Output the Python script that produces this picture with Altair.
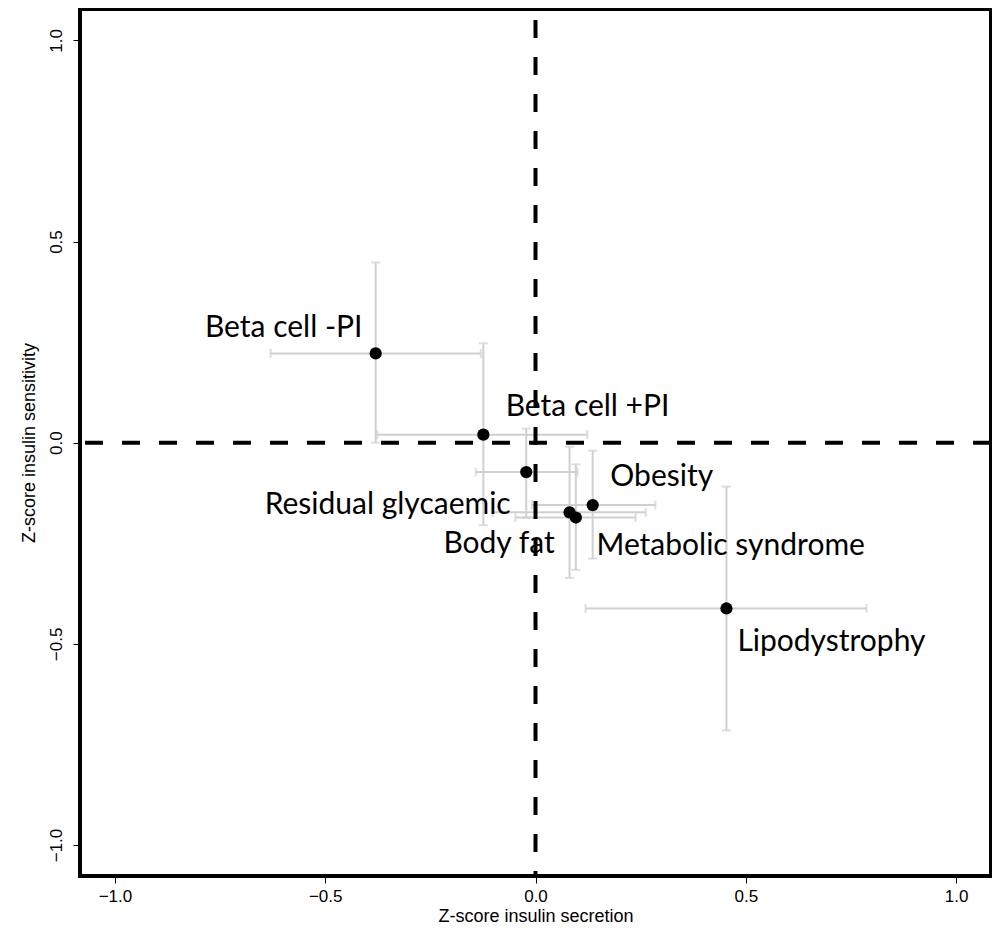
import altair as alt
import pandas as pd

groups = ["Beta cell -PI", "Beta cell +PI", "Residual glycaemic", "Body fat",
          "Metabolic syndrome", "Obesity", "Lipodystrophy"]
x_val = [-0.380, -0.124, -0.022, 0.081, 0.096, 0.136, 0.454]
x_lo = [-0.630, -0.376, -0.142, -0.102, -0.048, -0.009, 0.119]
x_hi = [-0.130, 0.123, 0.100, 0.262, 0.238, 0.285, 0.787]
y_val = [0.222, 0.020, -0.073, -0.173, -0.186, -0.155, -0.412]
y_lo = [0.000, -0.205, -0.186, -0.336, -0.316, -0.288, -0.715]
y_hi = [0.448, 0.247, 0.035, -0.010, -0.054, -0.020, -0.109]

label_x = [-0.786, -0.071, -0.644, -0.219, 0.145, 0.178, 0.480]
label_y = [0.286, 0.089, -0.154, -0.253, -0.258, -0.085, -0.495]

ticks = [-1.0, -0.5, 0.0, 0.5, 1.0]

df = pd.DataFrame({"group": groups, "x": x_val, "xlo": x_lo, "xhi": x_hi,
                   "y": y_val, "ylo": y_lo, "yhi": y_hi,
                   "lx": label_x, "ly": label_y})

AX_FONT = "Liberation Sans Narrow, Liberation Sans, Arial"
xs = alt.Scale(domain=[-1.083, 1.083], nice=False, zero=False)
ys = alt.Scale(domain=[-1.077, 1.078], nice=False, zero=False)

X = alt.X("x:Q", scale=xs, title="Z-score insulin secretion",
          axis=alt.Axis(values=ticks, format=".1f", grid=False, domain=False,
                        tickColor="#000", tickSize=7, tickWidth=1,
                        labelPadding=5, titlePadding=3,
                        labelFont=AX_FONT, titleFont=AX_FONT,
                        labelFontSize=17, titleFontSize=18,
                        labelColor="#000", titleColor="#000",
                        titleFontWeight="normal"))
Y = alt.Y("y:Q", scale=ys, title="Z-score insulin sensitivity",
          axis=alt.Axis(values=ticks, format=".1f", grid=False, domain=False,
                        tickColor="#000", tickSize=7, tickWidth=1,
                        labelAngle=-90, labelAlign="center", labelBaseline="bottom",
                        labelPadding=8, titlePadding=9,
                        labelFont=AX_FONT, titleFont=AX_FONT,
                        labelFontSize=17, titleFontSize=18,
                        labelColor="#000", titleColor="#000",
                        titleFontWeight="normal"))

base = alt.Chart(df)
GREY = "#d0d0d0"

hbars = base.mark_rule(color=GREY, strokeWidth=2).encode(
    x=alt.X("xlo:Q", scale=xs), x2="xhi:Q", y=alt.Y("y:Q", scale=ys))
vbars = base.mark_rule(color=GREY, strokeWidth=2).encode(
    x=alt.X("x:Q", scale=xs), y=alt.Y("ylo:Q", scale=ys), y2="yhi:Q")
cap_xlo = base.mark_tick(color=GREY, thickness=2, size=9, orient="vertical").encode(
    x=alt.X("xlo:Q", scale=xs), y=alt.Y("y:Q", scale=ys))
cap_xhi = base.mark_tick(color=GREY, thickness=2, size=9, orient="vertical").encode(
    x=alt.X("xhi:Q", scale=xs), y=alt.Y("y:Q", scale=ys))
cap_ylo = base.mark_tick(color=GREY, thickness=2, size=9, orient="horizontal").encode(
    x=alt.X("x:Q", scale=xs), y=alt.Y("ylo:Q", scale=ys))
cap_yhi = base.mark_tick(color=GREY, thickness=2, size=9, orient="horizontal").encode(
    x=alt.X("x:Q", scale=xs), y=alt.Y("yhi:Q", scale=ys))

zero_df = pd.DataFrame({"z": [0.0]})
vline = alt.Chart(zero_df).mark_rule(color="#000", strokeWidth=4,
                                     strokeDash=[18, 19], strokeDashOffset=26).encode(
    x=alt.X("z:Q", scale=xs))
hline = alt.Chart(zero_df).mark_rule(color="#000", strokeWidth=4,
                                     strokeDash=[18, 19]).encode(
    y=alt.Y("z:Q", scale=ys))

points = base.mark_circle(color="#000", opacity=1, size=150).encode(x=X, y=Y)

labels = base.mark_text(align="left", baseline="middle", font="Lato",
                        fontSize=30, color="#000").encode(
    x=alt.X("lx:Q", scale=xs), y=alt.Y("ly:Q", scale=ys), text="group:N")

chart = alt.layer(hbars, vbars, cap_xlo, cap_xhi, cap_ylo, cap_yhi,
                  vline, hline, points, labels).properties(
    width=911, height=867,
    background="white",
    autosize=alt.AutoSizeParams(type="none"),
    padding={"left": 72, "top": 1, "right": 1, "bottom": 53},
).configure_view(stroke="#000", strokeWidth=4)

chart.save("out.html", embed_options={"renderer": "svg", "actions": False})
